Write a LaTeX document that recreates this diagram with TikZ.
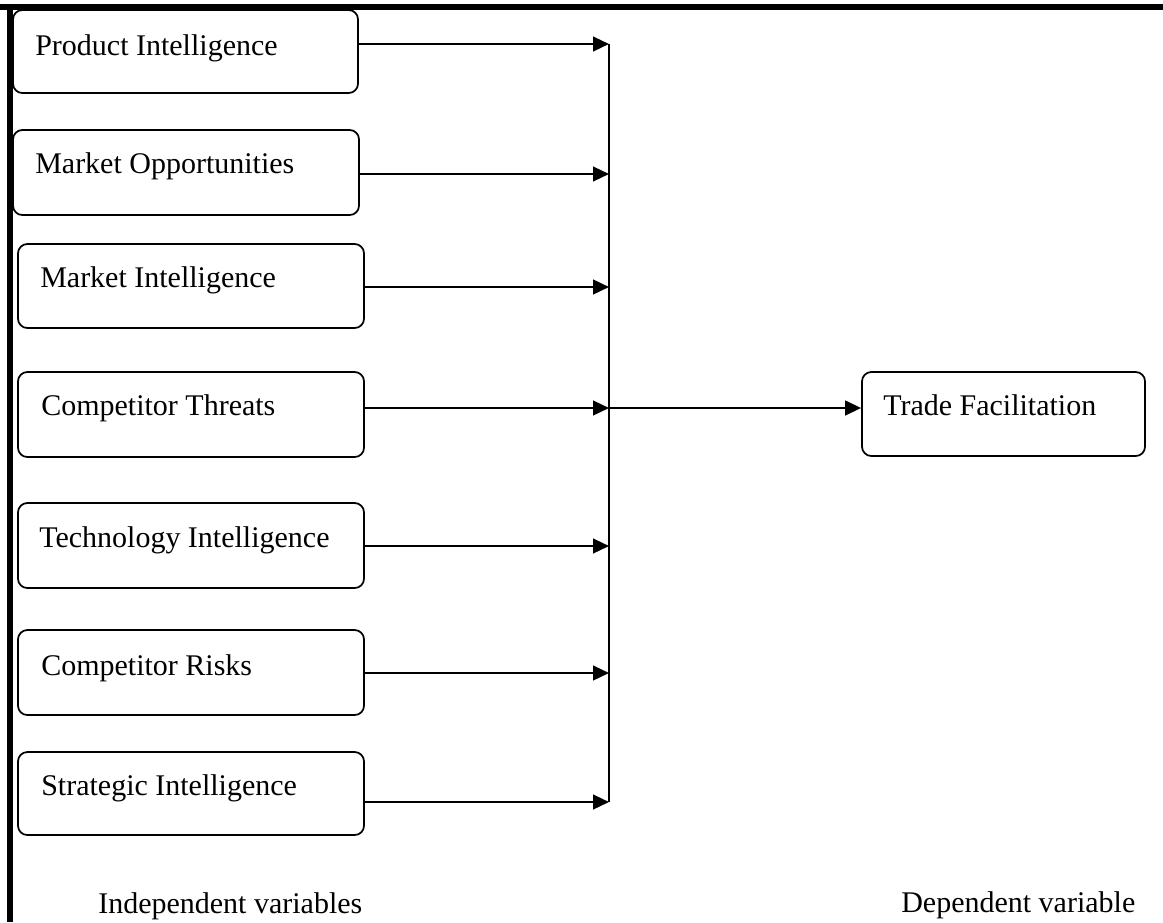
\documentclass[tikz,border=0pt]{standalone}
\usepackage{fontspec}
\setmainfont{Liberation Serif}
\usetikzlibrary{arrows.meta,fit}
\tikzset{
  box/.style={draw, line width=1.3pt, rounded corners=7pt, inner sep=0pt},
  lbl/.style={anchor=base west, inner sep=0pt, font=\fontsize{22.5}{27}\selectfont},
  arr/.style={line width=1.8pt, -{Triangle[length=12pt,width=11pt]}},
  rail/.style={line width=1.8pt}
}
\begin{document}
\begin{tikzpicture}[x=0.75pt,y=-0.75pt]
\useasboundingbox (0,0) rectangle (1163,922);
% heavy frame lines
\fill (0,3.5) rectangle (1163,10);
\fill (7,3.5) rectangle (13,922);
% independent variable boxes
\node[box, fit={(13,10) (358,93)}] (b1) {};
\node[box, fit={(13,130) (359,215)}] (b2) {};
\node[box, fit={(18,244) (364,328)}] (b3) {};
\node[box, fit={(18,372) (364,457)}] (b4) {};
\node[box, fit={(18,503) (364,588)}] (b5) {};
\node[box, fit={(18,630) (364,715)}] (b6) {};
\node[box, fit={(18,752) (364,835)}] (b7) {};
\node[box, fit={(862,372) (1145,456)}] (t) {};
% texts
\node[lbl] (t1) at (35,55) {Product Intelligence};
\node[lbl] (t2) at (35,173) {Market Opportunities};
\node[lbl] (t3) at (40,287) {Market Intelligence};
\node[lbl] (t4) at (41,415) {Competitor Threats};
\node[lbl] (t5) at (39,547) {Technology Intelligence};
\node[lbl] (t6) at (41,675) {Competitor Risks};
\node[lbl] (t7) at (41,795) {Strategic Intelligence};
\node[lbl] (tt) at (883,415) {Trade Facilitation};
\node[lbl] (ind) at (98,913) {Independent variables};
\node[lbl] (dep) at (901,912) {Dependent variable};
% junction points
\coordinate (j1) at (609,44);
\coordinate (j2) at (609,174);
\coordinate (j3) at (609,287);
\coordinate (j4) at (609,408);
\coordinate (j5) at (609,546);
\coordinate (j6) at (609,673);
\coordinate (j7) at (609,802);
\draw[rail] (j1) -- (j7);
\draw[arr] (b1.east |- j1) -- (j1);
\draw[arr] (b2.east |- j2) -- (j2);
\draw[arr] (b3.east |- j3) -- (j3);
\draw[arr] (b4.east |- j4) -- (j4);
\draw[arr] (b5.east |- j5) -- (j5);
\draw[arr] (b6.east |- j6) -- (j6);
\draw[arr] (b7.east |- j7) -- (j7);
\draw[arr] (j4) -- (t.west |- j4);
\end{tikzpicture}
\end{document}
